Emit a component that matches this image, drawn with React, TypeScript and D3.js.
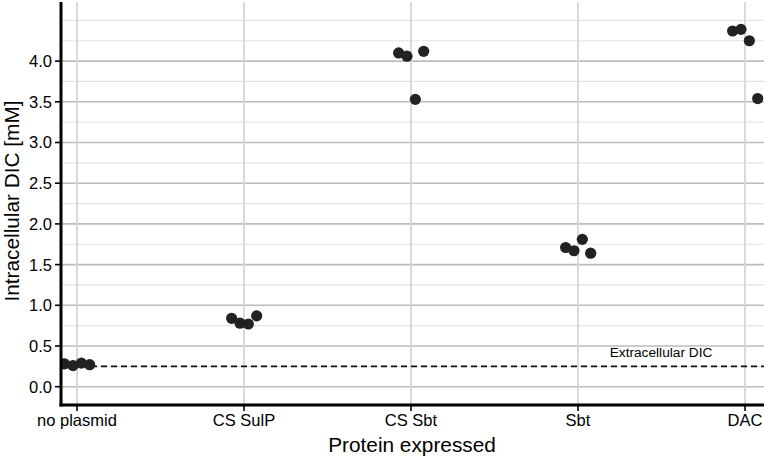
import React from "react";
import * as d3 from "d3";

const categories = ["no plasmid", "CS SulP", "CS Sbt", "Sbt", "DAC"];
const replicateOffsets = [-0.074, -0.024, 0.026, 0.076];
const noPlasmid = [0.28, 0.26, 0.29, 0.27];
const csSulP = [0.84, 0.78, 0.77, 0.87];
const csSbt = [4.10, 4.06, 3.53, 4.12];
const sbt = [1.71, 1.67, 1.81, 1.64];
const dac = [4.37, 4.39, 4.25, 3.54];
const seriesValues = [noPlasmid, csSulP, csSbt, sbt, dac];
const majorTicks = [0, 0.5, 1, 1.5, 2, 2.5, 3, 3.5, 4];
const minorTicks = [0.25, 0.75, 1.25, 1.75, 2.25, 2.75, 3.25, 3.75, 4.25, 4.5];
const extracellularDIC = 0.25;

const W = 764;
const H = 457;
const left = 61;
const right = 764;
const top = 2;
const bottom = 405;
const FONT = "'Liberation Sans', Arial, Helvetica, sans-serif";

export default function App() {
  const x = d3.scalePoint<string>().domain(categories).range([77, 745]);
  const step = x.step();
  const y = d3.scaleLinear().domain([0, 4]).range([386.7, 61.1]);

  const points = categories.flatMap((c, i) =>
    seriesValues[i].map((v, j) => ({ cx: (x(c) as number) + replicateOffsets[j] * step, cy: y(v) }))
  );

  return (
    <div style={{ position: "absolute", left: 0, top: 0 }}>
      <svg width={W} height={H} style={{ display: "block", background: "#fff" }}>
        <defs>
          <clipPath id="panel">
            <rect x={left} y={top} width={right - left} height={bottom - top} />
          </clipPath>
        </defs>
        <rect x={0} y={0} width={W} height={H} fill="#fff" />
        {minorTicks.map((t) => (
          <line key={"mi" + t} x1={left} x2={right} y1={y(t)} y2={y(t)} stroke="#e3e3e3" strokeWidth={1.2} />
        ))}
        {majorTicks.map((t) => (
          <line key={"ma" + t} x1={left} x2={right} y1={y(t)} y2={y(t)} stroke="#bcbcbc" strokeWidth={1.6} />
        ))}
        {categories.map((c) => (
          <line key={"v" + c} x1={x(c)} x2={x(c)} y1={top} y2={bottom} stroke="#d6d6d6" strokeWidth={1.8} />
        ))}
        <line x1={left} x2={right} y1={y(extracellularDIC)} y2={y(extracellularDIC)} stroke="#111" strokeWidth={1.6} strokeDasharray="6,4" />
        <text x={661} y={357} fontFamily={FONT} fontSize={13.7} textAnchor="middle" fill="#000">Extracellular DIC</text>
        <g clipPath="url(#panel)">
          {points.map((p, i) => (
            <circle key={i} cx={p.cx} cy={p.cy} r={5.6} fill="#222" />
          ))}
        </g>
        <line x1={left} x2={left} y1={top} y2={bottom + 1.5} stroke="#000" strokeWidth={3} />
        <line x1={left - 1.5} x2={right} y1={bottom} y2={bottom} stroke="#000" strokeWidth={3} />
        {majorTicks.map((t) => (
          <g key={"yt" + t}>
            <line x1={55} x2={left} y1={y(t)} y2={y(t)} stroke="#000" strokeWidth={1.6} />
            <text x={52} y={y(t) + 5.9} fontFamily={FONT} fontSize={16.5} textAnchor="end" fill="#000">{t.toFixed(1)}</text>
          </g>
        ))}
        {categories.map((c) => (
          <g key={"xt" + c}>
            <line x1={x(c)} x2={x(c)} y1={bottom} y2={bottom + 6} stroke="#000" strokeWidth={1.6} />
            <text x={x(c)} y={426} fontFamily={FONT} fontSize={16.5} textAnchor="middle" fill="#000">{c}</text>
          </g>
        ))}
        <text x={412} y={452} fontFamily={FONT} fontSize={20.8} textAnchor="middle" fill="#000">Protein expressed</text>
        <text transform={`translate(19, 201) rotate(-90)`} fontFamily={FONT} fontSize={20.8} textAnchor="middle" fill="#000">Intracellular DIC [mM]</text>
      </svg>
    </div>
  );
}
